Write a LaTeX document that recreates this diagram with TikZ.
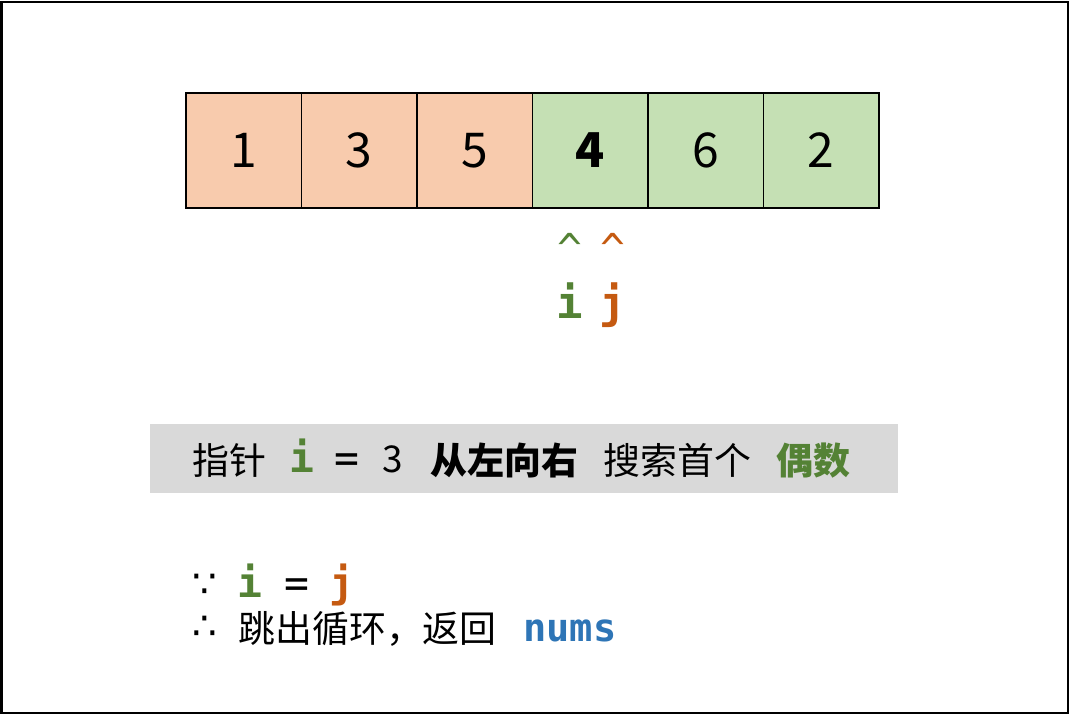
\documentclass[tikz,border=0pt]{standalone}
\usepackage{fontspec}
\setmainfont{Noto Sans CJK SC}
\newfontfamily\codefont{DejaVu Sans Mono}
\newfontfamily\symfont{DejaVu Sans}
\usepackage{xcolor}
\definecolor{oddcell}{HTML}{F8CBAD}
\definecolor{evencell}{HTML}{C5E0B4}
\definecolor{ptri}{HTML}{548235}
\definecolor{ptrj}{HTML}{C55A11}
\definecolor{numsblue}{HTML}{2E75B6}
\definecolor{notegray}{HTML}{D9D9D9}

\begin{document}
\begin{tikzpicture}[x=0.75pt,y=-0.75pt,
  cell/.style={draw,line width=1.1pt,minimum width=86.7pt,minimum height=86.3pt,inner sep=0pt,font=\fontsize{36}{36}\selectfont},
  ptr/.style={inner sep=0pt,font=\codefont\bfseries\fontsize{31}{31}\selectfont},
  txt/.style={inner sep=0pt,anchor=base west,font=\fontsize{27.7}{28}\selectfont},
  dots/.style={inner sep=0pt,font=\symfont\fontsize{29}{29}\selectfont}]
\useasboundingbox (0,0) rectangle (1069,714);
\draw[line width=1.5pt] (1.5,1.5) rectangle (1067.5,712.5);
% array
\node[cell,fill=oddcell] (c1) at (243.7,150.5) {1};
\node[cell,fill=oddcell] (c2) at (359.2,150.5) {3};
\node[cell,fill=oddcell] (c3) at (474.7,150.5) {5};
\node[cell,fill=evencell] (c4) at (590.2,150.5) {\bfseries 4};
\node[cell,fill=evencell] (c5) at (705.7,150.5) {6};
\node[cell,fill=evencell] (c6) at (821.2,150.5) {2};
% pointers
\node[ptr,text=ptri] (ci) at (570,248) {\mdseries\^{}};
\node[ptr,text=ptrj] (cj) at (613,248) {\mdseries\^{}};
\node[ptr,text=ptri,anchor=base,font=\codefont\bfseries\fontsize{33}{33}\selectfont] (pi) at (570,318) {i};
\node[ptr,text=ptrj,anchor=base,font=\codefont\bfseries\fontsize{33}{33}\selectfont] (pj) at (613,318) {j};
% note
\fill[notegray] (150,424) rectangle (898,493);
\node[txt] (n1) at (192,474) {指针};
\node[ptr,text=ptri,anchor=base west] (n2) at (289,472) {i};
\node[ptr,anchor=base west] (n3) at (334,472) {\mdseries =};
\node[txt] (n4) at (382,472) {3};
\node[txt] (n5) at (430,474) {\bfseries 从左向右};
\node[txt] (n6) at (603,474) {搜索首个};
\node[txt,text=ptri] (n7) at (776,474) {\bfseries 偶数};
% conclusion
\node[dots] (s1) at (205,586) {∵};
\node[ptr,text=ptri,anchor=base west] (s2) at (237,597) {i};
\node[ptr,anchor=base west] (s3) at (284,597) {\mdseries =};
\node[ptr,text=ptrj,anchor=base west] (s4) at (329,597) {j};
\node[dots] (t1) at (205,628) {∴};
\node[txt] (t2) at (238,642) {跳出循环，返回};
\node[ptr,text=numsblue,anchor=base west,font=\codefont\bfseries\fontsize{29}{29}\selectfont] (t3) at (523,641) {nums};
\end{tikzpicture}
\end{document}
